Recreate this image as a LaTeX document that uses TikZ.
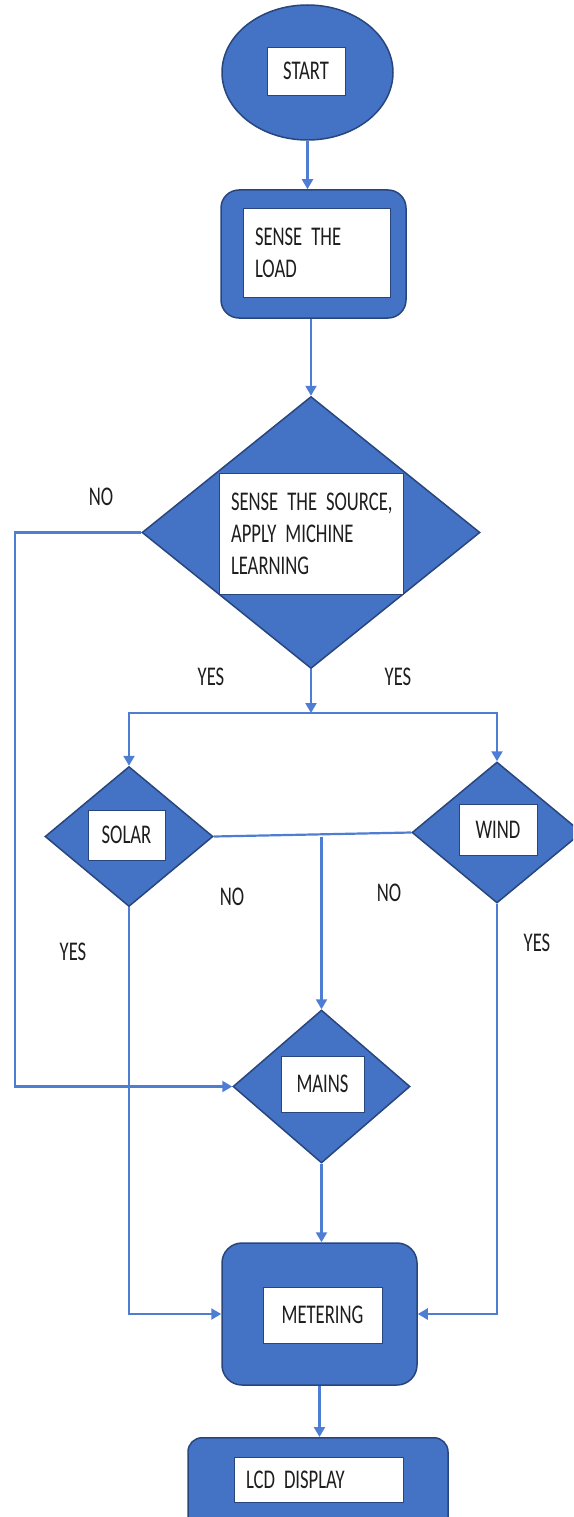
\documentclass[tikz,border=0pt]{standalone}
\usepackage{fontspec}
\setmainfont{Carlito}[FakeStretch=0.69]
\usetikzlibrary{shapes.geometric,arrows.meta,calc}
\definecolor{boxblue}{RGB}{68,114,196}
\definecolor{edgeblue}{RGB}{40,70,125}
\definecolor{linkblue}{RGB}{78,126,212}
\definecolor{txt}{RGB}{30,30,30}
\newcommand{\flowfont}{\fontsize{27}{32}\selectfont\spaceskip=3.5pt plus 1pt minus 1pt\relax}
\tikzset{
 base/.style={fill=boxblue, draw=edgeblue, line width=1.5pt, inner sep=0pt},
 rbox/.style={base, rectangle, rounded corners=18pt},
 dia/.style={base, diamond},
 wbox/.style={fill=white, draw=edgeblue, line width=0.9pt, inner sep=0pt, font=\flowfont, text=txt},
 lbl/.style={font=\flowfont, text=txt, inner sep=0pt},
 link/.style={draw=linkblue, line width=2.2pt},
 arr/.style={link, -{Triangle[width=11pt,length=10pt]}},
}
\begin{document}
\begin{tikzpicture}[x=1pt,y=-1pt]
\useasboundingbox (0,0) rectangle (573,1517);
\clip (0,0) rectangle (573,1517);
% shapes
\node[base, ellipse, minimum width=171pt, minimum height=135pt] (start) at (307.5,72.5) {};
\node[wbox, minimum width=78pt, minimum height=48pt] (startt) at (306,71) {START};
\node[rbox, minimum width=185pt, minimum height=128pt] (load) at (313.5,254) {};
\node[wbox, minimum width=147pt, minimum height=89pt, text width=123pt, inner xsep=12pt, align=left] (loadt) at (316.5,252.5) {\mbox{SENSE THE}\\LOAD};
\node[dia, minimum width=338pt, minimum height=272pt] (src) at (311,532.5) {};
\node[wbox, minimum width=184pt, minimum height=121pt, text width=160pt, inner xsep=12pt, align=left] (srct) at (311,533.5) {\mbox{SENSE THE SOURCE,}\\\mbox{APPLY MICHINE}\\LEARNING};
\node[dia, minimum width=168pt, minimum height=140pt] (solar) at (129,836.5) {};
\node[wbox, minimum width=77pt, minimum height=50pt] (solart) at (126.5,835) {SOLAR};
\node[dia, minimum width=170pt, minimum height=141pt] (wind) at (497,832.5) {};
\node[wbox, minimum width=78pt, minimum height=51pt] (windt) at (498,829.5) {WIND};
\node[dia, minimum width=177pt, minimum height=153pt] (mains) at (321.5,1086.5) {};
\node[wbox, minimum width=83pt, minimum height=56pt] (mainst) at (322.5,1084) {MAINS};
\node[rbox, rounded corners=20pt, minimum width=195pt, minimum height=142pt] (meter) at (319.5,1314) {};
\node[wbox, minimum width=119pt, minimum height=56pt] (metert) at (322.5,1315) {METERING};
\node[rbox, rounded corners=14pt, minimum width=260pt, minimum height=110pt, anchor=north] (lcd) at (318,1437) {};
\node[wbox, minimum width=157pt, minimum height=45pt, text width=145pt, inner xsep=12pt, align=left] (lcdt) at (318.5,1479.5) {\mbox{LCD DISPLAY}};
% labels
\node[lbl] (no1) at (101,497) {NO};
\node[lbl] (yes1) at (211,677) {YES};
\node[lbl] (yes2) at (398,677) {YES};
\node[lbl] (no2) at (232,897) {NO};
\node[lbl] (no3) at (389,893) {NO};
\node[lbl] (yes3) at (73,952) {YES};
\node[lbl] (yes4) at (537,943) {YES};
% connectors
\coordinate (nl) at (15,532.5);
\coordinate (jn) at (311,713);
\draw[arr] (start.south) -- (start.south |- load.north);
\draw[arr] (src.north |- load.south) -- (src.north);
\draw[arr] (src.west) -- (nl) |- (mains.west);
\draw[arr] (src.south) -- (jn);
\draw[arr] (jn) -| (solar.north);
\draw[arr] (jn) -| (wind.north);
\draw[link] (solar.east) -- (wind.west);
\draw[arr] (solar.east -| mains.north) -- (mains.north);
\draw[arr] (solar.south) |- (meter.west);
\draw[arr] (wind.south) |- (meter.east);
\draw[arr] (mains.south) -- (mains.south |- meter.north);
\draw[arr] (meter.south) -- (meter.south |- lcd.north);
\end{tikzpicture}
\end{document}
